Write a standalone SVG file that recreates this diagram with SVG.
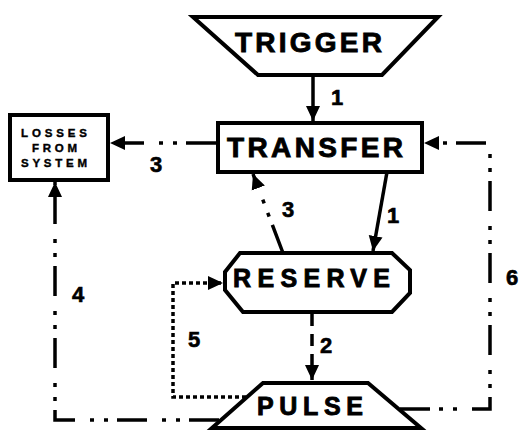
<svg xmlns="http://www.w3.org/2000/svg" width="521" height="430" viewBox="0 0 521 430">
<style>
.shape{fill:#fff;stroke:#000;stroke-width:4;stroke-linejoin:miter}
.big{font-family:"Liberation Sans",Arial,sans-serif;font-weight:bold;fill:#000;stroke:#000;stroke-width:0.9}
.small{font-family:"Liberation Sans",Arial,sans-serif;font-weight:bold;fill:#000;stroke:#000;stroke-width:0.4}
.lbl{font-family:"Liberation Sans",Arial,sans-serif;font-weight:bold;font-size:22px;fill:#000;stroke:#000;stroke-width:0.6}
.conn{fill:none;stroke:#000;stroke-width:3.5}
.dashdot{stroke-dasharray:30 9 4 10 4 15}
.dotted{stroke-dasharray:4 3}
.dashed{stroke-dasharray:12 8}
</style>
<defs>
<marker id="ah" markerUnits="userSpaceOnUse" markerWidth="16" markerHeight="16" viewBox="0 0 16 16" refX="15" refY="8" orient="auto">
<path d="M0,1 L15,8 L0,15 Z" fill="#000"/>
</marker>
</defs>
<rect width="521" height="430" fill="#fff"/>
<g id="trigger">
<polygon class="shape" points="193,17 438,17 382,75 258,75"/>
<text class="big" x="235" y="52" font-size="28" textLength="147" lengthAdjust="spacing">TRIGGER</text>
</g>
<g id="transfer">
<rect class="shape" x="218" y="123" width="204" height="49"/>
<text class="big" x="227" y="157" font-size="28" textLength="176" lengthAdjust="spacing">TRANSFER</text>
</g>
<g id="losses">
<rect class="shape" x="10" y="115" width="98" height="65"/>
<text class="small" x="21" y="137" font-size="11.5" textLength="66" lengthAdjust="spacing">LOSSES</text>
<text class="small" x="32" y="152" font-size="11.5" textLength="45" lengthAdjust="spacing">FROM</text>
<text class="small" x="21" y="167" font-size="11.5" textLength="66" lengthAdjust="spacing">SYSTEM</text>
</g>
<g id="reserve">
<polygon class="shape" points="240,253 392,253 410,270 410,293 392,312 243,312 225,290 225,272"/>
<text class="big" x="233" y="287" font-size="25" textLength="157" lengthAdjust="spacing">RESERVE</text>
</g>
<g id="pulse">
<polygon class="shape" points="263,383 368,383 421,428 212,428"/>
<text class="big" x="257" y="415" font-size="25" textLength="106" lengthAdjust="spacing">PULSE</text>
</g>
<g id="connectors">
<path class="conn" d="M313,77 V121" marker-end="url(#ah)"/>
<path class="conn dashdot" d="M216,143 H110" marker-end="url(#ah)"/>
<path class="conn dashdot" d="M400,409 H490 V143 H424" marker-end="url(#ah)"/>
<path class="conn" d="M387,172 L373,251" marker-end="url(#ah)"/>
<path class="conn dashdot" d="M283,253 L253,174" marker-end="url(#ah)"/>
<path class="conn dashed" d="M312,314 V380" marker-end="url(#ah)"/>
<path class="conn dotted" d="M246,397 H173 V283 H223" marker-end="url(#ah)"/>
<path class="conn dashdot" d="M219,420 H55 V182" marker-end="url(#ah)"/>
</g>
<g id="labels">
<text class="lbl" x="331" y="105">1</text>
<text class="lbl" x="150" y="172">3</text>
<text class="lbl" x="282" y="217">3</text>
<text class="lbl" x="387" y="223">1</text>
<text class="lbl" x="506" y="285">6</text>
<text class="lbl" x="72" y="302">4</text>
<text class="lbl" x="188" y="347">5</text>
<text class="lbl" x="320" y="353">2</text>
</g>
</svg>
